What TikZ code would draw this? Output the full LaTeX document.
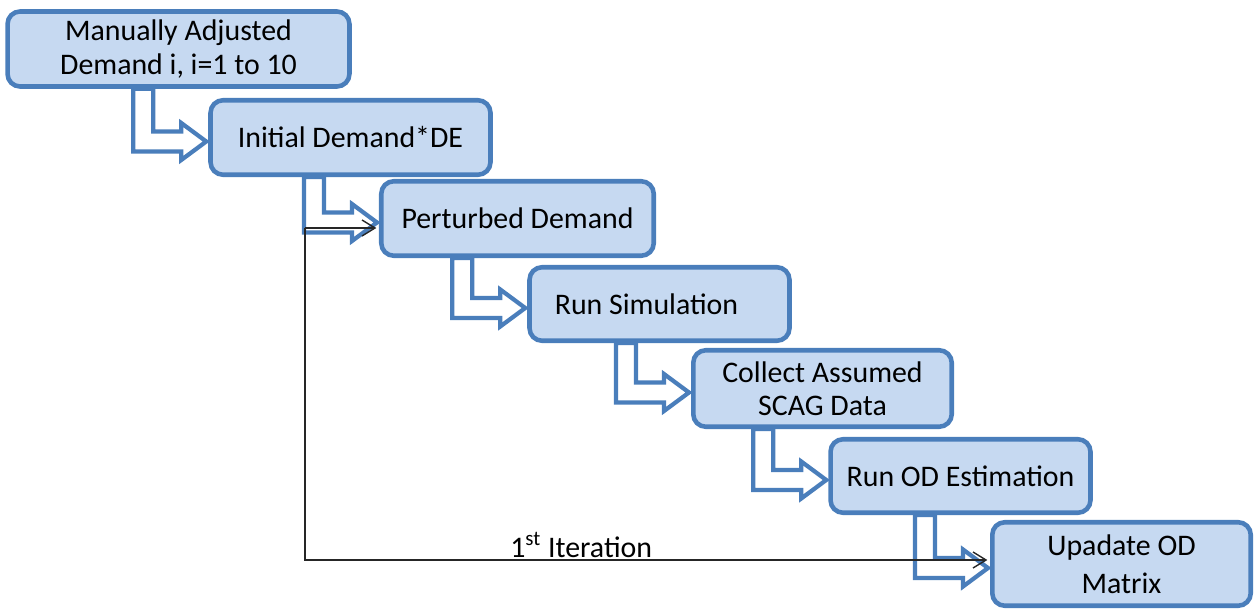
\documentclass[tikz,border=0pt]{standalone}
\usepackage{fontspec}
\setmainfont{Carlito}
\usetikzlibrary{arrows.meta,calc}
\definecolor{boxfill}{RGB}{198,217,241}
\definecolor{boxline}{RGB}{74,126,187}

\begin{document}
\begin{tikzpicture}[x=0.02cm,y=-0.02cm,>={Straight Barb[length=2.6mm,width=3.2mm]},
  box/.style={draw=boxline,fill=boxfill,line width=2.6pt,rounded corners=0.25cm,
    align=center,inner sep=0pt,font=\fontsize{17}{19}\selectfont},
  bentarr/.style={draw=boxline,fill=white,line width=2.4pt},
  loopline/.style={black!85,line width=0.8pt}]
  \useasboundingbox (0,0) rectangle (1257,611);
  % steps
  \node[box,minimum width=6.84cm,minimum height=1.5cm] (n1) at (178.5,49) {Manually Adjusted\\Demand i, i=1 to 10};
  \node[box,minimum width=5.6cm,minimum height=1.49cm] (n2) at (350.5,137.5) {Initial Demand*DE};
  \node[box,minimum width=5.45cm,minimum height=1.49cm] (n3) at (517.5,218.5) {Perturbed Demand};
  \node[box,minimum width=5.2cm,minimum height=1.47cm] (n4) at (659.5,304) {Run Simulation\hspace*{0.52cm}};
  \node[box,minimum width=5.17cm,minimum height=1.53cm] (n5) at (822.5,388.5) {Collect Assumed\\SCAG Data};
  \node[box,minimum width=5.2cm,minimum height=1.47cm] (n6) at (960.5,476) {Run OD Estimation};
  \node[box,minimum width=5.17cm,minimum height=1.67cm,font=\fontsize{17}{21.5}\selectfont] (n7) at (1121.5,564) {Upadate OD\\Matrix};
  % bent arrows
  \foreach \a/\b in {n1/n2,n2/n3,n3/n4,n4/n5,n5/n6,n6/n7}{
    \coordinate (tip) at ($(\b.west)+(-2,4)$);
    \coordinate (top) at (\a.south -| tip);
    \draw[bentarr] ($(top)+(-73,0)$) |- ($(tip)+(-25,10)$) -- ++(0,8.5) -- (tip)
      -- ++(-25,-18.5) -- ++(0,8.5) -| ($(top)+(-53,0)$) -- cycle;
  }
  % first iteration loop
  \coordinate (split) at (305,228);
  \coordinate (corner) at (305,560);
  \draw[loopline,->,shorten >=1.5pt] (split) -- (split -| n3.west);
  \draw[loopline,->,shorten >=1.5pt] (split) -- (corner) -- (corner -| n7.west);
  \node[anchor=base west,inner sep=0pt,font=\fontsize{17}{19}\selectfont] (iter) at (510,557) {1\textsuperscript{st} Iteration};
\end{tikzpicture}
\end{document}
